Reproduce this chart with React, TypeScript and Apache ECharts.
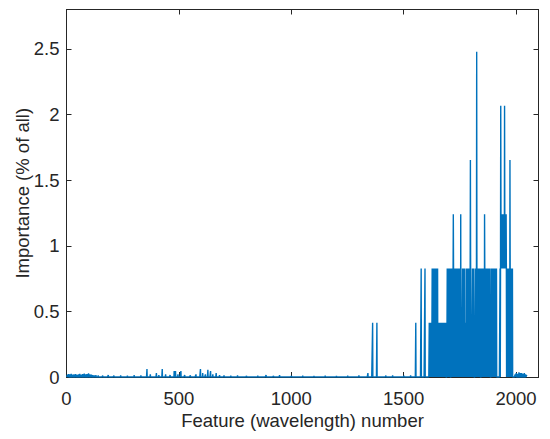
import React, { useEffect, useRef } from "react";
import * as echarts from "echarts";

// ---- data ----
const FEATURE_COUNT = 2048;
const xTicks = [0, 500, 1000, 1500, 2000];
const yTicks = [0, 0.5, 1, 1.5, 2, 2.5];

// importance levels (% of all) used by the dense region codes
const levels = [0, 0.413, 0.826, 1.24, 1.653, 2.066, 2.479];

// sparse low-importance features (index, value)
const lowIdx = [
  3, 8, 14, 20, 27, 33, 40, 46, 52, 58, 65, 71, 78, 84, 90, 97, 103, 110, 116, 123, 130,
  140, 160, 185, 210, 240, 270, 300, 330, 357, 372, 399, 410, 425, 440, 460, 478, 484,
  495, 508, 525, 550, 575, 595, 605, 617, 628, 640, 650, 665, 680, 700, 730, 760, 800,
  850, 887, 920, 947, 1000, 1050, 1100, 1150, 1200, 1250, 1300, 1340, 1361, 1380, 1420,
  1450, 1500, 1530, 1553, 1577,
  1995, 2000, 2006, 2012, 2018, 2024, 2030, 2036, 2042, 2047,
];
const lowVal = [
  0.018, 0.022, 0.02, 0.025, 0.019, 0.021, 0.023, 0.017, 0.02, 0.024, 0.018, 0.022, 0.026,
  0.02, 0.023, 0.028, 0.02, 0.018, 0.015, 0.012, 0.014,
  0.012, 0.01, 0.015, 0.01, 0.012, 0.01, 0.015, 0.012, 0.06, 0.02, 0.03, 0.015, 0.06, 0.02,
  0.015, 0.045, 0.045, 0.02, 0.045, 0.015, 0.012, 0.02, 0.06, 0.03, 0.02, 0.055, 0.045,
  0.02, 0.03, 0.015, 0.012, 0.01, 0.012, 0.008, 0.01, 0.015, 0.008, 0.015, 0.008, 0.01,
  0.008, 0.01, 0.008, 0.01, 0.012, 0.03, 0.413, 0.413, 0.01, 0.012, 0.01, 0.012, 0.413,
  0.826,
  0.02, 0.03, 0.025, 0.035, 0.03, 0.03, 0.025, 0.03, 0.02, 0.015,
];

// dense region: each run starts at a feature index; each digit is a level code
const runStarts = [
  1594, 1613, 1626, 1652, 1693, 1711, 1720, 1721, 1739, 1753, 1754, 1761, 1771, 1777,
  1796, 1797, 1819, 1824, 1825, 1859, 1860, 1890, 1928, 1931, 1932, 1948, 1949, 1956,
  1972, 1973,
];
const runCodes = [
  "2",
  "1010101010101",
  "20202012000202120202012020",
  "10101010110100010101101010100010101",
  "20201020102020",
  "202120202",
  "3",
  "202020200020202020",
  "12020120202020",
  "3",
  "0001000",
  "2020202020",
  "101010",
  "2020202000202020202",
  "4",
  "2010100020101020",
  "20202",
  "6",
  "2020202020202120000020202020212020",
  "3",
  "2020202020200002020202020",
  "202020202020200020202020",
  "202",
  "5",
  "3232323232323232",
  "5",
  "3232323",
  "2020202000202020",
  "4",
  "202020202020",
];

const FONT = "'Liberation Sans', Arial, Helvetica, sans-serif";
const TEXT = "#262626";

function buildData(): [number, number][] {
  const values: number[] = new Array(FEATURE_COUNT).fill(0);
  lowIdx.forEach((idx, k) => {
    values[idx] = lowVal[k];
  });
  runStarts.forEach((start, r) => {
    const code = runCodes[r];
    for (let j = 0; j < code.length; j++) {
      values[start + j] = levels[Number(code[j])];
    }
  });
  return values.map((v, i) => [i + 1, v]);
}

export default function App() {
  const ref = useRef<HTMLDivElement>(null);

  useEffect(() => {
    if (!ref.current) return;
    const chart = echarts.init(ref.current, undefined, { renderer: "svg" });
    const axisLine = { show: true, onZero: false, lineStyle: { color: TEXT, width: 1 } };
    const fmt = (v: number) => String(v);
    const option: any = {
      animation: false,
      backgroundColor: "#ffffff",
      grid: {
        left: 66.5,
        right: 11.5,
        top: 9.5,
        bottom: 62,
        containLabel: false,
        outerBoundsMode: "none",
      },
      xAxis: [
        {
          type: "value",
          min: 0,
          max: 2100,
          interval: 500,
          position: "bottom",
          name: "Feature (wavelength) number",
          nameLocation: "middle",
          nameGap: 34,
          nameMoveOverlap: false,
          nameTextStyle: { fontSize: 18.5, color: TEXT, fontFamily: FONT },
          axisLine,
          axisTick: { inside: true, length: 5, customValues: xTicks, lineStyle: { color: TEXT } },
          axisLabel: {
            fontSize: 18.5,
            color: TEXT,
            fontFamily: FONT,
            margin: 12,
            customValues: xTicks,
            formatter: fmt,
          },
          splitLine: { show: false },
        },
        {
          type: "value",
          min: 0,
          max: 2100,
          interval: 500,
          position: "top",
          axisLine,
          axisTick: { inside: true, length: 5, customValues: xTicks, lineStyle: { color: TEXT } },
          axisLabel: { show: false },
          splitLine: { show: false },
        },
      ],
      yAxis: [
        {
          type: "value",
          min: 0,
          max: 2.8,
          interval: 0.5,
          position: "left",
          name: "Importance (% of all)",
          nameLocation: "middle",
          nameGap: 35,
          nameMoveOverlap: false,
          nameTextStyle: { fontSize: 18.5, color: TEXT, fontFamily: FONT },
          axisLine,
          axisTick: { inside: true, length: 5, customValues: yTicks, lineStyle: { color: TEXT } },
          axisLabel: {
            fontSize: 18.5,
            color: TEXT,
            fontFamily: FONT,
            margin: 7,
            customValues: yTicks,
            formatter: fmt,
          },
          splitLine: { show: false },
        },
        {
          type: "value",
          min: 0,
          max: 2.8,
          interval: 0.5,
          position: "right",
          axisLine,
          axisTick: { inside: true, length: 5, customValues: yTicks, lineStyle: { color: TEXT } },
          axisLabel: { show: false },
          splitLine: { show: false },
        },
      ],
      series: [
        {
          type: "line",
          xAxisIndex: 0,
          yAxisIndex: 0,
          data: buildData(),
          showSymbol: false,
          symbol: "none",
          silent: true,
          z: 3,
          lineStyle: { color: "#0072BD", width: 1.4 },
        },
      ],
    };
    chart.setOption(option);
    return () => chart.dispose();
  }, []);

  return (
    <div
      ref={ref}
      style={{ position: "absolute", left: 0, top: 0, width: 550, height: 439, background: "#fff" }}
    />
  );
}
